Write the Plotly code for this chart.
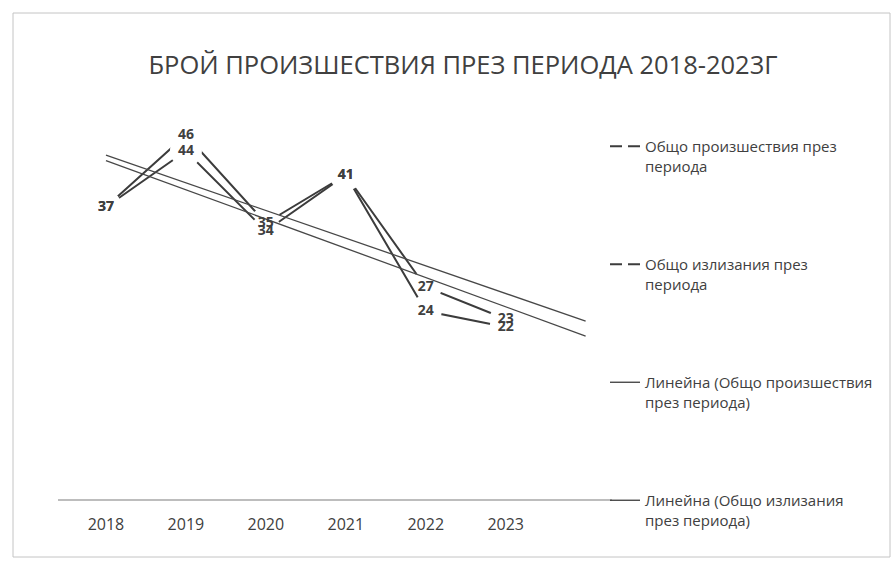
import numpy as np
import plotly.graph_objects as go

years = ["2018", "2019", "2020", "2021", "2022", "2023"]
incidents = [37, 46, 35, 41, 27, 23]
outings = [37, 44, 34, 41, 24, 22]

name_inc = "Общо произшествия през<br>периода"
name_out = "Общо излизания през<br>периода"
name_tr_inc = "Линейна (Общо произшествия<br>през периода)"
name_tr_out = "Линейна (Общо излизания<br>през периода)"
title_text = "БРОЙ ПРОИЗШЕСТВИЯ ПРЕЗ ПЕРИОДА 2018-2023Г"

x = np.arange(len(years))
x_tr = np.arange(len(years) + 1)  # trendline forecast forward one period
c_inc = np.polyfit(x, incidents, 1)
c_out = np.polyfit(x, outings, 1)
tr_inc = np.polyval(c_inc, x_tr)
tr_out = np.polyval(c_out, x_tr)

FONT = "Open Sans"
TXT = "#404040"
LINE = "#3c3c3c"

fig = go.Figure()
# series lines (white markers make the gaps around each data point)
for vals in (incidents, outings):
    fig.add_trace(go.Scatter(
        x=x, y=vals, mode="lines+markers", showlegend=False, hoverinfo="skip",
        line=dict(color=LINE, width=2),
        marker=dict(color="white", size=32, line=dict(width=0)),
    ))
# trendlines
for vals in (tr_inc, tr_out):
    fig.add_trace(go.Scatter(
        x=x_tr, y=vals, mode="lines", showlegend=False, hoverinfo="skip",
        line=dict(color="#484848", width=1.3),
    ))
# data labels
for vals in (incidents, outings):
    fig.add_trace(go.Scatter(
        x=x, y=vals, mode="text", text=[str(v) for v in vals],
        textposition="middle center", showlegend=False, hoverinfo="skip",
        textfont=dict(family=FONT, size=14, color=TXT, weight="bold"),
    ))
# legend entries
legend_items = [
    (name_inc, "12px,6px", 2, "g1"),
    (name_out, "12px,6px", 2, "g2"),
    (name_tr_inc, "solid", 1.3, "g3"),
    (name_tr_out, "solid", 1.3, "g4"),
]
for nm, dash, w, grp in legend_items:
    fig.add_trace(go.Scatter(
        x=[None], y=[None], mode="lines", name=nm, legendgroup=grp,
        line=dict(color=LINE, width=w, dash=dash),
    ))

L, R, T, B = 58, 612, 40, 499
PW, PH = R - L, B - T
Y0 = 0.5
YMAX = Y0 + PH / 8.0  # 8 px per unit
def px_x(p):
    return (p - L) / PW
def px_y(p):
    return (B - p) / PH

fig.update_layout(
    width=896, height=566,
    margin=dict(l=L, r=896 - R, t=T, b=566 - B, pad=0),
    paper_bgcolor="white", plot_bgcolor="white",
    title=dict(text=title_text, x=463 / 896, xanchor="center",
               y=1 - 65 / 566, yanchor="middle",
               font=dict(family=FONT, size=25.5, color=TXT)),
    xaxis=dict(range=[-0.6, 6.33], tickmode="array", tickvals=list(x), ticktext=years,
               showgrid=False, zeroline=False, showline=True, linecolor="#bdbdbd", linewidth=1.5,
               ticks="outside", ticklen=10, tickcolor="rgba(0,0,0,0)",
               tickfont=dict(family=FONT, size=16, color=TXT)),
    yaxis=dict(range=[Y0, YMAX], visible=False, showgrid=False, zeroline=False),
    legend=dict(x=px_x(605), xanchor="left", y=px_y(130), yanchor="top",
                traceorder="grouped", tracegroupgap=76, valign="top",
                font=dict(family=FONT, size=15, color=TXT), bgcolor="rgba(0,0,0,0)"),
    showlegend=True,
    shapes=[dict(type="rect", xref="paper", yref="paper",
                 x0=px_x(13), x1=px_x(890), y0=px_y(557), y1=px_y(13),
                 line=dict(color="#c4c4c4", width=1), layer="below")],
)

fig.write_html("out.html", config={"displayModeBar": False},
               post_script="document.body.style.margin='0';")
